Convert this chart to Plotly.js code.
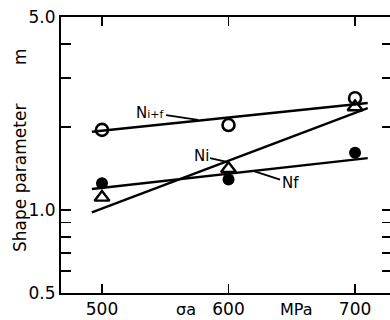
<!DOCTYPE html>
<html>
<head>
<meta charset="utf-8">
<script src="https://cdn.plot.ly/plotly-3.0.1.min.js"></script>
<style>html,body{margin:0;padding:0;overflow:hidden;background:#fff;}#chart{width:392px;height:320px;}</style>
</head>
<body>
<div id="chart"></div>
<script>
// Data
const stress = [500, 600, 700];           // sigma_a, MPa
const mNiF = [1.95, 2.03, 2.54];          // open circles, N i+f
const mNi  = [1.11, 1.41, 2.36];          // open triangles, N i
const mNf  = [1.25, 1.29, 1.61];          // filled circles, N f
const fitX    = [492, 710];
const fitNiF  = [1.92, 2.44];
const fitNi   = [0.98, 2.34];
const fitNf   = [1.19, 1.54];
const yTickVals = [0.5, 0.6, 0.7, 0.8, 0.9, 1, 2, 3, 4, 5];
const yTickText = ['0.5', '', '', '', '', '1.0', '', '', '', '5.0'];
const xTickVals = [500, 600, 700];
const xTickText = ['500', '600', '700'];

const F = 'DejaVu Sans, Arial, sans-serif';
const lineStyle = {color: '#000', width: 2.4};

const traces = [
  {x: fitX, y: fitNiF, mode: 'lines', line: lineStyle, hoverinfo: 'skip'},
  {x: fitX, y: fitNi,  mode: 'lines', line: lineStyle, hoverinfo: 'skip'},
  {x: fitX, y: fitNf,  mode: 'lines', line: lineStyle, hoverinfo: 'skip'},
  {x: stress, y: mNi, mode: 'markers',
   marker: {symbol: 'triangle-up-open', size: 13, color: '#000', line: {width: 2.4, color: '#000'}}},
  {x: stress, y: mNf, mode: 'markers',
   marker: {symbol: 'circle', size: 12, color: '#000', line: {width: 0}}},
  {x: stress, y: mNiF, mode: 'markers',
   marker: {symbol: 'circle-open', size: 12, color: '#000', line: {width: 2.6, color: '#000'}}}
];

const layout = {
  width: 392, height: 320,
  margin: {l: 61, r: 0, t: 17, b: 27, pad: 0},
  paper_bgcolor: '#fff', plot_bgcolor: '#fff',
  showlegend: false,
  font: {family: F, size: 17, color: '#000'},
  xaxis: {
    range: [467.6, 729.2], showgrid: false, zeroline: false,
    showline: true, linecolor: '#000', linewidth: 2, mirror: 'ticks',
    ticks: 'inside', ticklen: 9, tickwidth: 1.8, tickcolor: '#000',
    tickvals: xTickVals, ticktext: xTickText,
    tickfont: {family: F, size: 17, color: '#000'}
  },
  yaxis: {
    type: 'log', range: [Math.log10(0.5), Math.log10(5)],
    showgrid: false, zeroline: false,
    showline: true, linecolor: '#000', linewidth: 2, mirror: 'ticks',
    ticks: 'inside', ticklen: 10, tickwidth: 1.8, tickcolor: '#000',
    tickvals: yTickVals, ticktext: yTickText,
    tickfont: {family: F, size: 17, color: '#000'}
  },
  annotations: [
    {xref: 'paper', yref: 'paper', x: 0, y: 0.4167, xshift: -41, textangle: -90,
     text: 'Shape parameter', showarrow: false, xanchor: 'center', yanchor: 'middle',
     font: {family: F, size: 17}},
    {xref: 'paper', yref: 'paper', x: 0, y: 0.855, xshift: -41, textangle: -90,
     text: 'm', showarrow: false, xanchor: 'center', yanchor: 'middle',
     font: {family: F, size: 17}},
    {xref: 'x', yref: 'paper', x: 566, y: -0.06, text: 'σa', showarrow: false,
     xanchor: 'center', yanchor: 'middle', font: {family: F, size: 16}},
    {xref: 'x', yref: 'paper', x: 654, y: -0.058, text: 'MPa', showarrow: false,
     xanchor: 'center', yanchor: 'middle', font: {family: F, size: 16}},
    {x: 575.9, y: Math.log10(2.12), text: 'N<span style="font-size:11px">i+f</span>',
     showarrow: true, arrowhead: 0, arrowwidth: 1.8, arrowcolor: '#000', ax: -48, ay: -7,
     font: {family: F, size: 15}},
    {x: 599.6, y: Math.log10(1.49), text: 'Ni',
     showarrow: true, arrowhead: 0, arrowwidth: 1.8, arrowcolor: '#000', ax: -27, ay: -6,
     font: {family: F, size: 15}},
    {x: 619.4, y: Math.log10(1.385), text: 'Nf',
     showarrow: true, arrowhead: 0, arrowwidth: 1.8, arrowcolor: '#000', ax: 37, ay: 12,
     font: {family: F, size: 15}}
  ]
};

Plotly.newPlot('chart', traces, layout, {staticPlot: true, displayModeBar: false});
</script>
</body>
</html>
